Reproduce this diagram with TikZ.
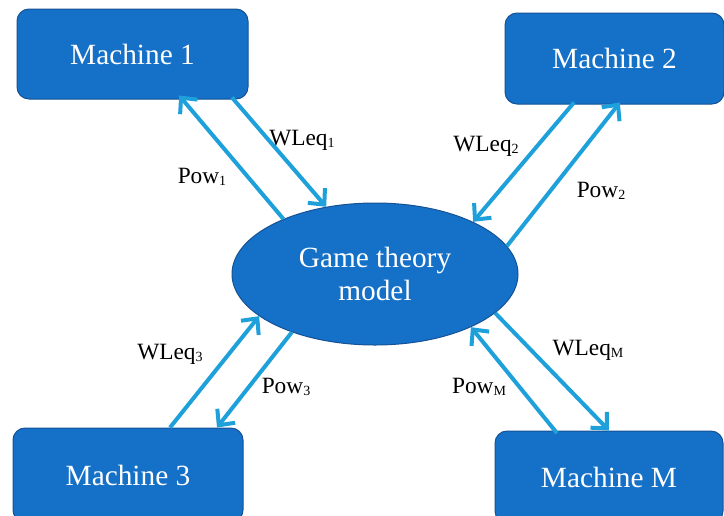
\documentclass[tikz,border=0pt]{standalone}
\usepackage{fontspec}
\setmainfont{Liberation Serif}
\usetikzlibrary{shapes.geometric,arrows.meta}

\definecolor{boxblue}{RGB}{21,112,199}
\definecolor{boxedge}{RGB}{22,82,150}
\definecolor{flowblue}{RGB}{30,160,218}

\newcommand{\sbs}[1]{\raisebox{-1.5pt}{\fontsize{10.5}{11}\selectfont #1}}

\tikzset{every picture/.style={line width=0.75pt}}

\begin{document}
\begin{tikzpicture}[x=0.75pt,y=0.75pt,yscale=-1,xscale=1,
  machine/.style={draw=boxedge,fill=boxblue,rounded corners=9pt,text=white,
    font=\fontsize{22}{26}\selectfont,inner sep=0pt},
  model/.style={ellipse,draw=boxedge,fill=boxblue,text=white,align=center,
    font=\fontsize{22}{25}\selectfont,inner sep=0pt,minimum width=214.5pt,minimum height=106.5pt},
  flow/.style={draw=flowblue,line width=3pt,-{Straight Barb[length=9pt,width=17pt]}},
  lbl/.style={font=\fontsize{17.5}{20}\selectfont,inner sep=0.75pt}]

\useasboundingbox (0,0) rectangle (724,515);

% machines and the model
\node [machine,minimum width=173.25pt,minimum height=67.5pt] (m1) at (132.5,54) {Machine 1};
\node [machine,minimum width=164.25pt,minimum height=68.25pt] (m2) at (614.5,58.5) {Machine 2};
\node [machine,minimum width=172.5pt,minimum height=70.5pt] (m3) at (128,475) {Machine 3};
\node [machine,minimum width=171pt,minimum height=69pt] (m4) at (609,477) {Machine M};
\node [model] (gt) at (375,274) {Game theory\\model};

% arrows
\draw [flow] (gt.149) -- ([xshift=35pt,yshift=-3pt]m1.south);
\draw [flow] ([xshift=74.6pt,yshift=-1.5pt]m1.south) -- (gt.126);
\draw [flow] ([xshift=-30.4pt,yshift=-1.5pt]m2.south) -- (gt.28);
\draw [flow] (gt.12) -- ([xshift=4pt,yshift=-1.5pt]m2.south);
\draw [flow] ([xshift=31.5pt]m3.north) -- (gt.200);
\draw [flow] (gt.215) -- ([xshift=66.75pt]m3.north);
\draw [flow] ([xshift=-39pt,yshift=2pt]m4.north) -- (gt.331.5);
\draw [flow] (gt.342) -- (m4.north);

% labels
\node [lbl] (p1) at (202,177) {Pow\sbs{1}};
\node [lbl] (w1) at (302,140) {WLeq\sbs{1}};
\node [lbl] (w2) at (486,146) {WLeq\sbs{2}};
\node [lbl] (p2) at (601,191) {Pow\sbs{2}};
\node [lbl] (w3) at (170,354) {WLeq\sbs{3}};
\node [lbl] (p3) at (286,387) {Pow\sbs{3}};
\node [lbl] (wM) at (588,350) {WLeq\sbs{M}};
\node [lbl] (pM) at (479,387) {Pow\sbs{M}};

\end{tikzpicture}
\end{document}
